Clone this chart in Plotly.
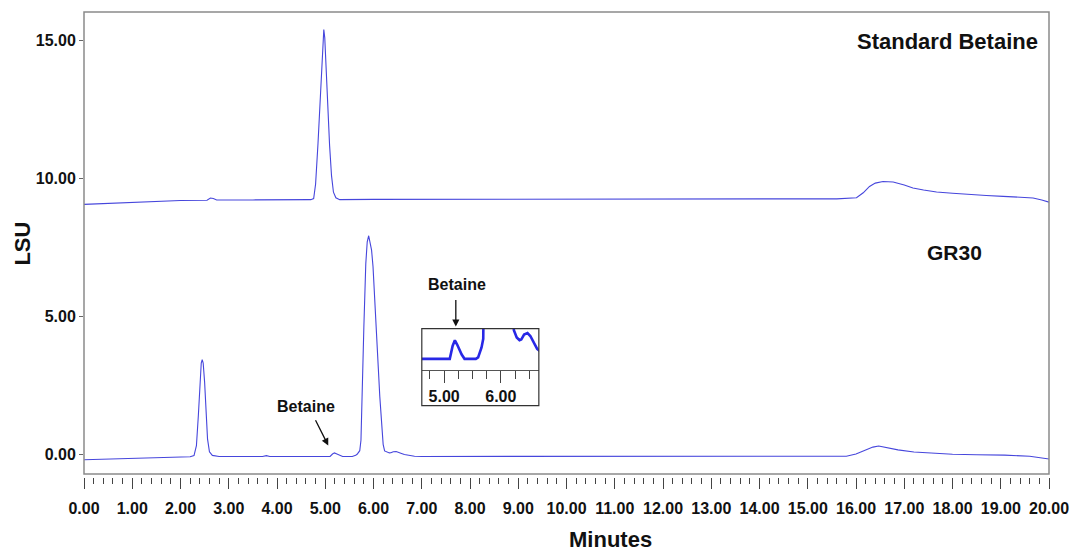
import plotly.graph_objects as go

# ---------------- data ----------------
std_time = [0.00, 0.50, 1.00, 1.50, 2.00, 2.55, 2.62, 2.68, 2.75, 3.50, 4.00, 4.70,
            4.76, 4.80, 4.85, 4.89, 4.92, 4.95, 4.97, 4.99, 5.02, 5.05, 5.09, 5.13,
            5.17, 5.22, 5.30, 6.00, 8.00, 10.00, 12.00, 14.00, 15.25, 15.60, 16.01,
            16.15, 16.28, 16.40, 16.56, 16.77, 17.00, 17.18, 17.40, 17.67, 18.00,
            18.36, 18.70, 19.05, 19.40, 19.67, 19.85, 20.00]
std_lsu = [9.06, 9.10, 9.14, 9.18, 9.20, 9.21, 9.29, 9.27, 9.22, 9.22, 9.22, 9.23,
           9.27, 9.80, 11.28, 12.70, 13.90, 15.00, 15.40, 15.10, 13.80, 12.60, 11.20, 10.10,
           9.50, 9.30, 9.23, 9.24, 9.24, 9.24, 9.24, 9.25, 9.25, 9.26, 9.30,
           9.48, 9.71, 9.83, 9.89, 9.87, 9.76, 9.65, 9.58, 9.51, 9.46,
           9.41, 9.38, 9.35, 9.32, 9.29, 9.22, 9.14]

gr30_time = [0.00, 1.00, 2.00, 2.20, 2.28, 2.33, 2.37, 2.40, 2.43, 2.45, 2.47, 2.50,
             2.53, 2.56, 2.60, 2.66, 2.80, 3.70, 3.78, 3.85, 4.60, 5.10, 5.15, 5.19,
             5.23, 5.31, 5.36, 5.56, 5.60, 5.63, 5.66, 5.69, 5.715, 5.74, 5.77, 5.80,
             5.84, 5.87, 5.90, 5.93, 5.96, 5.99, 6.03, 6.06, 6.10, 6.13, 6.17, 6.20,
             6.23, 6.28, 6.33, 6.36, 6.41, 6.47, 6.52, 6.58, 6.64, 6.67, 6.75, 6.85,
             7.00, 10.00, 13.00, 15.50, 15.80, 16.00, 16.20, 16.35, 16.47, 16.60, 16.87,
             17.20, 17.60, 18.00, 18.50, 19.08, 19.60, 19.94, 20.00]
gr30_lsu = [-0.21, -0.17, -0.12, -0.10, -0.06, 0.30, 1.40, 2.60, 3.30, 3.42, 3.30, 2.60,
            1.50, 0.55, 0.08, -0.05, -0.09, -0.09, -0.06, -0.09, -0.09, -0.09, 0.00, 0.04,
            0.01, -0.06, -0.09, -0.09, -0.08, -0.05, -0.01, 0.05, 0.12, 0.50, 3.00, 4.60,
            6.90, 7.70, 7.92, 7.70, 7.40, 6.80, 5.60, 4.50, 3.10, 2.10, 1.00, 0.35,
            0.11, 0.06, 0.04, 0.045, 0.08, 0.09, 0.07, 0.02, -0.02, -0.03, -0.06, -0.08,
            -0.09, -0.09, -0.09, -0.09, -0.08, 0.00, 0.15, 0.25, 0.29, 0.24, 0.15,
            0.07, 0.02, -0.01, -0.03, -0.04, -0.08, -0.17, -0.18]

x_tick_vals = [float(v) for v in range(0, 21)]
y_tick_vals = [0.0, 5.0, 10.0, 15.0]
inset_tick_vals = [5.0, 6.0]

# ---------------- figure ----------------
FONT = "Liberation Sans, Arial, sans-serif"
LINE_BLUE = "rgb(70,70,220)"
FRAME = "#8a8a8a"

fig = go.Figure()
fig.add_trace(go.Scatter(x=std_time, y=std_lsu, mode="lines",
                         line=dict(color=LINE_BLUE, width=1.1),
                         xaxis="x", yaxis="y", showlegend=False, hoverinfo="skip"))
fig.add_trace(go.Scatter(x=gr30_time, y=gr30_lsu, mode="lines",
                         line=dict(color=LINE_BLUE, width=1.1),
                         xaxis="x", yaxis="y", showlegend=False, hoverinfo="skip"))
# inset: zoom of the GR30 trace around betaine
fig.add_trace(go.Scatter(x=gr30_time, y=gr30_lsu, mode="lines",
                         line=dict(color="rgb(40,40,230)", width=2.6),
                         xaxis="x2", yaxis="y2", showlegend=False, hoverinfo="skip",
                         cliponaxis=True))

W, H = 1083, 554
L, R, T, B = 84.3, 34, 12.3, 76.5
pw = W - L - R
ph = H - T - B

def px(xp):
    return (xp - L) / pw

def py(yp):
    return (H - B - yp) / ph

tickfont = dict(family=FONT, size=16, color="#111", weight="bold")

fig.update_layout(
    width=W, height=H,
    margin=dict(l=L, r=R, t=T, b=B, pad=0),
    paper_bgcolor="white", plot_bgcolor="white",
    font=dict(family=FONT, color="#111"),
    xaxis=dict(domain=[0, 1], anchor="free", position=0, range=[0, 20],
               tickvals=x_tick_vals, tickformat=".2f", tickangle=0,
               ticks="outside", ticklen=11, tickwidth=1, tickcolor="#444",
               minor=dict(dtick=0.2, tick0=0, ticks="outside", ticklen=6,
                          tickwidth=1, tickcolor="#444"),
               showgrid=False, zeroline=False, showline=False,
               tickfont=tickfont, ticklabelstandoff=6),
    yaxis=dict(domain=[3 / ph, 1], anchor="x", range=[-0.726, 16.04],
               tickvals=y_tick_vals, tickformat=".2f",
               ticks="outside", ticklen=4, tickwidth=1, tickcolor="#666",
               showgrid=False, zeroline=False, showline=False,
               tickfont=tickfont),
    xaxis2=dict(domain=[px(422), px(539)], anchor="y2", range=[4.607, 6.67],
                tickvals=inset_tick_vals, tickformat=".2f", tickangle=0,
                ticks="outside", ticklen=12, tickwidth=1, tickcolor="#444",
                minor=dict(dtick=0.25, tick0=0, ticks="outside", ticklen=8,
                           tickwidth=1, tickcolor="#444"),
                showgrid=False, zeroline=False, showline=True,
                linecolor="#555", linewidth=1.2,
                tickfont=dict(family=FONT, size=16, color="#111", weight="bold")),
    yaxis2=dict(domain=[py(370), py(329)], anchor="x2", range=[-0.165, 0.122],
                visible=False, showgrid=False, zeroline=False),
)

# frames
fig.add_shape(type="rect", xref="x domain", yref="y domain", x0=0, x1=1, y0=0, y1=1,
              line=dict(color=FRAME, width=1.5), layer="above")
fig.add_shape(type="rect", xref="paper", yref="paper",
              x0=px(422), x1=px(539), y0=py(406), y1=py(329),
              line=dict(color="#333", width=1.2), layer="above")

bold = lambda s: "<b>" + s + "</b>"

annotations = [
    dict(text=bold("Standard Betaine"), xref="paper", yref="paper",
         x=px(1040), y=py(42), xanchor="right", yanchor="middle",
         showarrow=False, font=dict(family=FONT, size=22, color="#111")),
    dict(text=bold("GR30"), xref="paper", yref="paper",
         x=px(984), y=py(253), xanchor="right", yanchor="middle",
         showarrow=False, font=dict(family=FONT, size=21, color="#111")),
    dict(text=bold("LSU"), xref="paper", yref="paper",
         x=px(23.3), y=py(244), xanchor="center", yanchor="middle", textangle=-90,
         showarrow=False, font=dict(family=FONT, size=22, color="#111")),
    dict(text=bold("Minutes"), xref="paper", yref="paper",
         x=px(611), y=py(540), xanchor="center", yanchor="middle",
         showarrow=False, font=dict(family=FONT, size=22, color="#111")),
    dict(text=bold("Betaine"), xref="paper", yref="paper",
         x=px(306.7), y=py(407), xanchor="center", yanchor="middle",
         showarrow=False, font=dict(family=FONT, size=16, color="#111")),
    dict(text=bold("Betaine"), xref="paper", yref="paper",
         x=px(457.3), y=py(285), xanchor="center", yanchor="middle",
         showarrow=False, font=dict(family=FONT, size=16, color="#111")),
    # arrows
    dict(text="", xref="paper", yref="paper", x=px(328.5), y=py(446),
         ax=-13.5, ay=-26.7, showarrow=True, arrowhead=2, arrowsize=1.1,
         arrowwidth=1.3, arrowcolor="#111"),
    dict(text="", xref="paper", yref="paper", x=px(456), y=py(327),
         ax=0, ay=-28, showarrow=True, arrowhead=2, arrowsize=1.1,
         arrowwidth=1.3, arrowcolor="#111"),
]
fig.update_layout(annotations=annotations)

fig.write_html("out.html",
               config={"displayModeBar": False},
               post_script="document.body.style.margin='0';"
                           "document.body.style.padding='0';"
                           "document.body.style.overflow='hidden';")
